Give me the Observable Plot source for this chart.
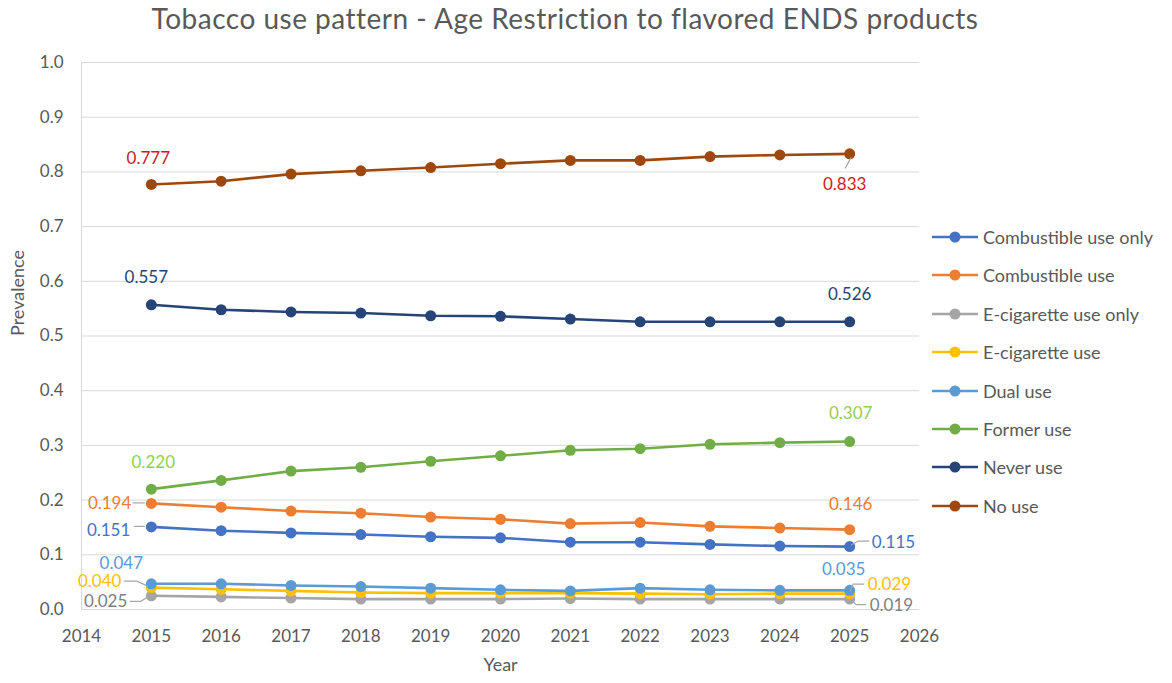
<!DOCTYPE html>
<html>
<head>
<meta charset="utf-8">
<script src="https://cdn.jsdelivr.net/npm/d3@7"></script>
<script src="https://cdn.jsdelivr.net/npm/@observablehq/plot@0.6"></script>
<style>
  body { margin: 0; background: #fff; font-family: Lato, "Open Sans", sans-serif; }
  #wrap { position: relative; width: 1172px; height: 683px; overflow: hidden; }
  #title { position: absolute; left: 0; top: 1px; width: 1130px; text-align: center; font-size: 28px; letter-spacing: 0.5px; color: #595959; }
  #chart { position: absolute; left: 0; top: 40px; }
  #legend { position: absolute; left: 932px; top: 0; font-size: 18px; color: #595959; }
  .item { position: absolute; left: 0; height: 20px; white-space: nowrap; display: flex; align-items: center; }
  .item svg { margin-right: 5px; }
</style>
</head>
<body>
<div id="wrap">
  <div id="title">Tobacco use pattern - Age Restriction to flavored ENDS products</div>
  <div id="chart"></div>
  <div id="legend"></div>
</div>
<script>
// Projection years
const years = [2015, 2016, 2017, 2018, 2019, 2020, 2021, 2022, 2023, 2024, 2025];

// Prevalence per use category
const combustibleOnly = [0.151, 0.144, 0.140, 0.137, 0.133, 0.131, 0.123, 0.123, 0.119, 0.116, 0.115];
const combustible     = [0.194, 0.187, 0.180, 0.176, 0.169, 0.165, 0.157, 0.159, 0.152, 0.149, 0.146];
const ecigOnly        = [0.025, 0.023, 0.021, 0.019, 0.019, 0.019, 0.020, 0.019, 0.019, 0.019, 0.019];
const ecig            = [0.040, 0.037, 0.034, 0.031, 0.030, 0.030, 0.030, 0.029, 0.028, 0.029, 0.029];
const dual            = [0.047, 0.047, 0.044, 0.042, 0.039, 0.036, 0.034, 0.039, 0.036, 0.035, 0.035];
const former          = [0.220, 0.236, 0.253, 0.260, 0.271, 0.281, 0.291, 0.294, 0.302, 0.305, 0.307];
const never           = [0.557, 0.548, 0.544, 0.542, 0.537, 0.536, 0.531, 0.526, 0.526, 0.526, 0.526];
const noUse           = [0.777, 0.783, 0.796, 0.802, 0.808, 0.815, 0.821, 0.821, 0.828, 0.831, 0.833];

const seriesNames = ["Combustible use only", "Combustible use", "E-cigarette use only", "E-cigarette use",
                     "Dual use", "Former use", "Never use", "No use"];
const seriesValues = [combustibleOnly, combustible, ecigOnly, ecig, dual, former, never, noUse];
const seriesColors = ["#4472c4", "#ed7d31", "#a5a5a5", "#ffc000", "#5b9bd5", "#70ad47", "#264478", "#9e480e"];
const labelColors  = ["#4472c4", "#ed7d31", "#7f7f7f", "#ffc000", "#5b9bd5", "#92d050", "#264478", "#c9211e"];

const yTicks = d3.range(11).map(i => i / 10);
const xTicks = d3.range(2014, 2027);

const rows = seriesNames.flatMap((name, s) =>
  years.map((year, i) => ({series: name, year, value: seriesValues[s][i]})));

// Placement of the first/last value labels: [series index, point index, dx, dy, anchor, leader path]
const valueLabels = [
  [7, 0, -3, -26, "middle", null],
  [7, 10, -5, 31, "middle", [[2, 4], [-4, 15]]],
  [6, 0, -5, -27, "middle", null],
  [6, 10, 0, -27, "middle", null],
  [5, 0, 2, -27, "middle", null],
  [5, 10, 1, -28, "middle", null],
  [1, 0, -20, 0, "end", [[-6, 0], [-18, 0]]],
  [1, 10, 1, -25, "middle", null],
  [0, 0, -21, 4, "end", [[-6, 0], [-17, 0]]],
  [0, 10, 22, -4, "start", [[2, -1], [9, -5], [20, -5]]],
  [4, 0, -30, -20, "middle", null],
  [4, 10, -6, -21, "middle", null],
  [3, 0, -30, -6, "end", [[-3, -1], [-14, -6], [-27, -6]]],
  [3, 10, 18, -9, "start", [[1, -2], [4, -9], [15, -9]]],
  [2, 0, -24, 6, "end", [[-2, 1], [-10, 6], [-21, 6]]],
  [2, 10, 20, 6, "start", [[2, 1], [7, 6], [17, 6]]]
];

const fmt = d3.format(".3f");

// Thin grey connector between a point and its offset label
function leaderMark(s, i, path) {
  return (index, scales) => {
    const px = scales.x(years[i]);
    const py = scales.y(seriesValues[s][i]);
    const el = document.createElementNS("http://www.w3.org/2000/svg", "path");
    el.setAttribute("d", "M" + path.map(([dx, dy]) => `${px + dx},${py + dy}`).join("L"));
    el.setAttribute("fill", "none");
    el.setAttribute("stroke", "#a6a6a6");
    el.setAttribute("stroke-width", "1.2");
    return el;
  };
}

const marks = [
  Plot.ruleY(yTicks, {stroke: "#d9d9d9", strokeWidth: 1}),
  Plot.ruleX([2014], {stroke: "#d9d9d9", strokeWidth: 1}),
  ...seriesNames.flatMap((name, s) => {
    const data = rows.filter(d => d.series === name);
    return [
      Plot.line(data, {x: "year", y: "value", stroke: seriesColors[s], strokeWidth: 2.6}),
      Plot.dot(data, {x: "year", y: "value", fill: seriesColors[s], r: 5.5})
    ];
  }),
  ...valueLabels.filter(d => d[5]).map(([s, i, , , , path]) => leaderMark(s, i, path)),
  ...valueLabels.map(([s, i, dx, dy, anchor]) =>
    Plot.text([{year: years[i], value: seriesValues[s][i]}], {
      x: "year", y: "value", text: d => fmt(d.value),
      dx, dy, textAnchor: anchor, fill: labelColors[s], fontSize: 17
    })),
  Plot.text(["Prevalence"], {frameAnchor: "left", dx: -63, rotate: -90, fontSize: 18, fill: "#595959"}),
  Plot.text(["Year"], {frameAnchor: "bottom", dy: 61, fontSize: 18, fill: "#595959"})
];

const chart = Plot.plot({
  width: 1172,
  height: 643,
  marginLeft: 81,
  marginRight: 253,
  marginTop: 22,
  marginBottom: 74,
  style: {fontFamily: "Lato, 'Open Sans', sans-serif", fontSize: "17px", color: "#595959", background: "transparent"},
  x: {domain: [2014, 2026], ticks: xTicks, tickFormat: d => String(d), tickSize: 0, tickPadding: 20, label: null},
  y: {domain: [0, 1], ticks: yTicks, tickFormat: d3.format(".1f"), tickSize: 0, tickPadding: 18, label: null},
  marks
});
document.getElementById("chart").appendChild(chart);

// Legend to the right of the plot
const legend = document.getElementById("legend");
seriesNames.forEach((name, s) => {
  const item = document.createElement("div");
  item.className = "item";
  item.style.top = (227 + s * 38.4) + "px";
  item.innerHTML = `<svg width="46" height="20"><line x1="0" y1="10" x2="46" y2="10" stroke="${seriesColors[s]}" stroke-width="2.6"/><circle cx="23" cy="10" r="5.5" fill="${seriesColors[s]}"/></svg><span>${name}</span>`;
  legend.appendChild(item);
});
</script>
</body>
</html>
